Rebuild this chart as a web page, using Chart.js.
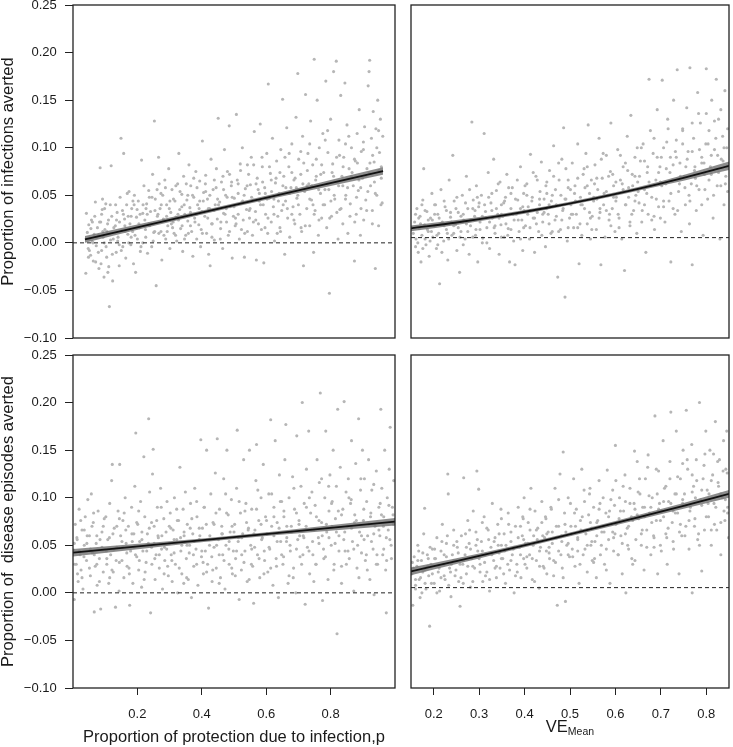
<!DOCTYPE html>
<html>
<head>
<meta charset="utf-8">
<script src="https://cdn.jsdelivr.net/npm/chart.js@4.4.1/dist/chart.umd.min.js"></script>
<style>
  body { margin: 0; background: #fff; }
  #wrap { position: relative; width: 733px; height: 747px; }
  canvas { position: absolute; }
</style>
</head>
<body>
<div id="wrap">
  <canvas id="c1" width="400" height="345" style="left:0;top:0"></canvas>
  <canvas id="c2" width="333" height="345" style="left:400px;top:0"></canvas>
  <canvas id="c3" width="400" height="397" style="left:0;top:350px"></canvas>
  <canvas id="c4" width="333" height="397" style="left:400px;top:350px"></canvas>
</div>
<script>
// --- ejes ---
const yTicks = [-0.10, -0.05, 0, 0.05, 0.10, 0.15, 0.20, 0.25];
const pTicks = [0.2, 0.4, 0.6, 0.8];
const veTicks = [0.2, 0.3, 0.4, 0.5, 0.6, 0.7, 0.8];

// --- puntos (x, y): nube externa ---
const infByP = [
[0.003,-0.032],[0.005,0.031],[0.008,0.011],[0.011,-0.006],[0.013,0.019],[0.016,0.004],[0.019,-0.013],[0.022,0.024],[0.025,0.001],[0.028,-0.019],[0.031,0.009],[0.035,0.043],[0.038,-0.003],[0.042,0.016],[0.047,-0.027],
[0.051,0.079],[0.053,0.022],[0.056,-0.008],[0.058,0.035],[0.059,0.046],[0.061,0.006],[0.064,-0.036],[0.067,0.014],[0.070,0.041],[0.073,-0.015],[0.076,0.020],[0.077,-0.031],[0.080,-0.025],[0.082,-0.067],[0.086,0.003],[0.088,0.081],[0.090,0.028],[0.093,-0.040],
[0.102,0.018],[0.105,-0.010],[0.108,0.032],[0.111,0.006],[0.115,-0.024],[0.118,0.048],[0.121,0.110],[0.124,0.013],[0.127,-0.004],[0.130,0.094],[0.133,0.025],[0.137,-0.016],[0.140,0.040],[0.144,0.009],[0.148,0.054],
[0.151,0.020],[0.154,-0.002],[0.157,0.036],[0.160,0.012],[0.163,-0.022],[0.166,0.050],[0.170,-0.031],[0.173,0.027],[0.176,0.004],[0.179,0.044],[0.183,0.016],[0.186,-0.009],[0.190,0.087],[0.194,0.031],[0.198,0.060],
[0.201,0.024],[0.204,0.006],[0.207,0.041],[0.210,-0.011],[0.214,0.055],[0.217,0.018],[0.220,0.033],[0.224,-0.004],[0.227,0.072],[0.231,0.011],[0.233,0.128],[0.236,0.046],[0.239,-0.045],[0.243,0.028],[0.247,0.090],[0.249,0.062],
[0.252,0.036],[0.255,0.012],[0.258,-0.018],[0.261,0.050],[0.264,0.024],[0.268,0.066],[0.271,0.004],[0.274,0.040],[0.278,0.018],[0.281,0.078],[0.285,-0.006],[0.288,0.032],[0.292,0.056],[0.296,0.022],[0.299,0.010],
[0.302,0.044],[0.305,0.027],[0.308,0.002],[0.311,0.062],[0.315,0.094],[0.318,0.035],[0.321,0.015],[0.325,0.051],[0.328,-0.009],[0.331,0.070],[0.335,0.030],[0.338,0.008],[0.342,0.045],[0.345,0.023],[0.349,0.082],
[0.352,0.037],[0.355,0.060],[0.358,0.012],[0.362,-0.014],[0.365,0.048],[0.368,0.026],[0.372,0.075],[0.375,0.004],[0.378,0.040],[0.382,0.019],[0.385,0.065],[0.388,-0.004],[0.392,0.033],[0.394,0.107],[0.398,0.053],
[0.402,0.028],[0.405,0.071],[0.408,0.010],[0.411,0.046],[0.415,-0.012],[0.418,0.036],[0.420,-0.024],[0.423,0.088],[0.427,0.020],[0.430,0.056],[0.434,0.003],[0.437,0.040],[0.441,0.078],[0.444,0.025],[0.447,0.131],
[0.452,0.043],[0.455,0.015],[0.458,0.064],[0.462,-0.006],[0.465,0.031],[0.468,0.098],[0.472,0.050],[0.475,0.022],[0.478,0.075],[0.481,0.008],[0.484,0.123],[0.487,0.038],[0.491,0.060],[0.494,-0.016],[0.498,0.028],
[0.501,0.047],[0.504,0.018],[0.508,0.135],[0.511,0.066],[0.514,0.030],[0.518,0.004],[0.521,0.083],[0.525,0.042],[0.528,0.100],[0.531,0.024],[0.535,-0.015],[0.538,0.057],[0.542,0.035],[0.545,0.012],[0.549,0.072],
[0.552,0.026],[0.555,0.061],[0.558,0.090],[0.562,0.008],[0.565,0.045],[0.568,0.117],[0.572,0.033],[0.575,-0.018],[0.578,0.068],[0.582,0.020],[0.585,0.052],[0.588,0.125],[0.592,0.014],[0.595,0.080],[0.598,0.040],
[0.600,-0.021],[0.603,0.058],[0.606,0.030],[0.610,0.094],[0.613,0.010],[0.615,0.167],[0.618,0.047],[0.622,0.073],[0.625,0.022],[0.629,0.110],[0.632,0.038],[0.636,0.002],[0.639,0.063],[0.643,0.086],[0.647,0.028],
[0.651,0.052],[0.654,0.016],[0.657,0.098],[0.660,0.034],[0.663,0.151],[0.667,0.070],[0.670,-0.012],[0.673,0.044],[0.677,0.121],[0.680,0.026],[0.684,0.080],[0.687,0.006],[0.691,0.058],[0.694,0.104],[0.698,0.038],
[0.701,0.066],[0.704,0.020],[0.708,0.132],[0.711,0.047],[0.714,0.178],[0.717,0.088],[0.721,0.030],[0.724,0.072],[0.727,0.012],[0.730,0.112],[0.733,-0.024],[0.737,0.054],[0.740,0.156],[0.744,0.036],[0.748,0.094],
[0.751,0.062],[0.754,0.018],[0.757,0.128],[0.760,0.045],[0.764,0.082],[0.767,-0.010],[0.769,0.193],[0.772,0.034],[0.776,0.070],[0.779,0.150],[0.783,0.008],[0.786,0.100],[0.790,0.052],[0.794,0.026],[0.798,0.115],
[0.801,0.074],[0.804,0.040],[0.808,0.170],[0.811,0.016],[0.815,0.095],[0.818,0.056],[0.820,-0.053],[0.824,0.130],[0.827,0.028],[0.831,0.083],[0.834,0.180],[0.838,0.046],[0.843,0.191],[0.846,0.064],[0.849,0.004],
[0.852,0.108],[0.855,0.035],[0.858,0.155],[0.862,0.070],[0.865,0.020],[0.868,0.090],[0.872,0.168],[0.875,0.050],[0.879,0.124],[0.882,0.010],[0.886,0.078],[0.890,0.041],[0.894,0.100],[0.900,0.060],[0.904,-0.019],
[0.907,0.086],[0.910,0.030],[0.913,0.115],[0.917,0.055],[0.920,0.140],[0.924,0.008],[0.927,0.096],[0.931,0.068],[0.935,0.024],[0.938,0.122],[0.942,0.045],[0.946,0.078],[0.950,0.165],[0.953,0.180],[0.955,0.192],
[0.958,0.060],[0.961,0.110],[0.964,0.034],[0.967,0.138],[0.970,0.085],[0.974,-0.027],[0.976,0.120],[0.979,0.050],[0.982,0.150],[0.985,0.018],[0.988,0.095],[0.991,0.130],[0.994,0.068],[0.997,0.042],[0.999,0.112]
];
// nucleo denso cerca de la recta
const infByPCore = [
[0.012,-0.015],[0.020,0.015],[0.027,0.000],[0.033,0.028],[0.040,0.006],[0.045,-0.010],[0.049,0.022],[0.054,-0.022],[0.060,0.012],[0.066,0.036],[0.071,-0.004],[0.079,0.024],[0.084,0.010],[0.092,-0.012],[0.097,0.016],
[0.103,0.040],[0.110,0.002],[0.116,0.022],[0.122,-0.008],[0.129,0.030],[0.135,0.012],[0.142,0.052],[0.147,0.000],[0.155,0.028],[0.161,0.044],[0.168,0.008],[0.175,0.035],[0.181,0.020],[0.188,-0.004],[0.195,0.040],
[0.203,0.014],[0.209,0.030],[0.216,0.048],[0.222,0.020],[0.229,0.002],[0.235,0.034],[0.242,0.056],[0.248,0.010],[0.256,0.040],[0.263,0.025],[0.270,0.058],[0.276,0.012],[0.283,0.036],[0.290,0.020],[0.297,0.046],
[0.304,0.008],[0.312,0.030],[0.319,0.054],[0.326,0.018],[0.333,0.040],[0.340,0.062],[0.347,0.010],[0.354,0.032],[0.361,0.050],[0.369,0.022],[0.376,0.058],[0.383,0.036],[0.390,0.014],[0.397,0.044],
[0.404,0.062],[0.412,0.026],[0.419,0.050],[0.426,0.006],[0.433,0.034],[0.440,0.058],[0.448,0.040],[0.456,0.022],[0.463,0.070],[0.470,0.030],[0.477,0.048],[0.485,0.012],[0.492,0.064],[0.500,0.038],
[0.507,0.020],[0.514,0.052],[0.522,0.076],[0.529,0.044],[0.536,0.010],[0.544,0.060],[0.551,0.034],[0.559,0.048],[0.566,0.082],[0.573,0.024],[0.581,0.056],[0.589,0.040],[0.596,0.064],
[0.604,0.016],[0.611,0.046],[0.619,0.080],[0.626,0.054],[0.634,0.030],[0.641,0.068],[0.649,0.044],[0.656,0.012],[0.664,0.060],[0.671,0.090],[0.679,0.036],[0.686,0.052],[0.694,0.074],
[0.701,0.024],[0.709,0.058],[0.716,0.040],[0.724,0.096],[0.731,0.062],[0.739,0.018],[0.746,0.076],[0.754,0.046],[0.761,0.060],[0.769,0.030],[0.776,0.088],[0.784,0.056],[0.791,0.072],[0.799,0.040],
[0.806,0.108],[0.814,0.062],[0.821,0.026],[0.829,0.074],[0.836,0.050],[0.844,0.090],[0.851,0.060],[0.859,0.036],[0.866,0.080],[0.874,0.104],[0.881,0.058],[0.889,0.028],[0.896,0.074],
[0.904,0.088],[0.911,0.048],[0.919,0.066],[0.926,0.036],[0.934,0.098],[0.941,0.070],[0.949,0.054],[0.956,0.084],[0.964,0.020],[0.971,0.064],[0.979,0.100],[0.986,0.076],[0.993,0.040]
];
const infByPCore2 = [
[0.015,-0.008],[0.025,0.022],[0.036,-0.020],[0.046,0.008],[0.056,0.030],[0.065,0.000],[0.074,0.012],[0.085,0.040],[0.095,0.004],[0.106,0.024],
[0.115,-0.002],[0.126,0.034],[0.134,0.018],[0.145,0.028],[0.155,0.006],[0.165,0.040],[0.174,0.016],[0.185,0.030],[0.194,0.000],[0.205,0.036],
[0.214,0.020],[0.225,0.048],[0.234,0.012],[0.245,0.030],[0.255,0.052],[0.265,0.008],[0.274,0.028],[0.285,0.044],[0.294,0.016],[0.305,0.060],
[0.314,0.024],[0.325,0.038],[0.334,0.004],[0.345,0.050],[0.354,0.018],[0.365,0.068],[0.374,0.030],[0.385,0.044],[0.394,0.010],[0.405,0.054],
[0.414,0.036],[0.425,0.020],[0.434,0.066],[0.445,0.046],[0.454,0.004],[0.465,0.056],[0.474,0.036],[0.485,0.072],[0.494,0.048],[0.505,0.026],
[0.514,0.062],[0.525,0.014],[0.534,0.050],[0.545,0.082],[0.554,0.036],[0.565,0.022],[0.574,0.062],[0.585,0.044],[0.594,0.090],[0.605,0.052],
[0.614,0.026],[0.625,0.066],[0.634,0.046],[0.645,0.010],[0.654,0.074],[0.665,0.040],[0.674,0.058],[0.685,0.094],[0.694,0.030],[0.705,0.068],
[0.714,0.050],[0.725,0.016],[0.734,0.084],[0.745,0.060],[0.754,0.104],[0.765,0.040],[0.774,0.066],[0.785,0.024],[0.794,0.082],[0.805,0.056],
[0.814,0.118],[0.825,0.044],[0.834,0.070],[0.845,0.032],[0.854,0.092],[0.865,0.060],[0.874,0.046],[0.885,0.112],[0.894,0.070],[0.905,0.022],
[0.914,0.084],[0.925,0.058],[0.934,0.106],[0.945,0.034],[0.954,0.074],[0.965,0.092],[0.974,0.052],[0.985,0.118],[0.994,0.080]
];

const infByVE = [
[0.158,0.022],[0.161,0.004],[0.163,0.036],[0.166,-0.010],[0.168,0.015],[0.170,0.028],[0.172,-0.020],[0.174,0.008],[0.176,0.045],[0.178,0.078],[0.180,0.019],[0.183,-0.002],[0.185,0.033],[0.188,0.012],[0.190,-0.014],[0.193,0.026],[0.196,0.052],[0.198,0.006],
[0.201,0.018],[0.204,0.040],[0.206,-0.006],[0.209,0.030],[0.211,0.010],[0.213,-0.043],[0.216,0.056],[0.219,0.022],[0.222,0.002],[0.225,0.038],[0.228,0.014],[0.231,-0.018],[0.234,0.066],[0.237,0.027],[0.240,0.008],[0.242,0.092],[0.245,0.044],[0.248,0.019],
[0.251,-0.008],[0.254,0.032],[0.257,-0.031],[0.260,0.012],[0.263,0.050],[0.266,0.024],[0.269,0.004],[0.272,0.070],[0.275,0.036],[0.278,-0.012],[0.281,0.018],[0.284,0.127],[0.287,0.045],[0.290,0.028],[0.292,0.008],[0.294,0.060],[0.297,-0.020],[0.299,0.038],
[0.302,0.022],[0.305,0.050],[0.308,0.005],[0.311,0.115],[0.314,0.033],[0.317,0.016],[0.320,0.074],[0.323,-0.006],[0.326,0.042],[0.329,0.026],[0.332,0.088],[0.335,0.010],[0.338,0.055],[0.341,0.030],[0.344,-0.012],[0.346,0.064],[0.348,0.019],[0.349,0.040],
[0.352,0.028],[0.355,0.006],[0.358,0.048],[0.361,0.072],[0.364,0.015],[0.367,-0.020],[0.370,0.036],[0.373,0.058],[0.376,0.002],[0.379,-0.023],[0.382,0.030],[0.385,0.045],[0.388,0.012],[0.391,0.080],[0.394,0.024],[0.396,-0.008],[0.398,0.052],[0.399,0.034],
[0.402,0.018],[0.405,0.062],[0.408,0.038],[0.411,0.004],[0.413,0.093],[0.416,0.044],[0.419,0.026],[0.422,-0.010],[0.425,0.070],[0.428,0.032],[0.431,0.012],[0.434,0.054],[0.437,0.085],[0.440,0.022],[0.443,0.046],[0.446,-0.004],[0.448,0.036],[0.449,0.064],
[0.452,0.030],[0.455,0.076],[0.458,0.010],[0.461,0.050],[0.464,0.102],[0.467,0.024],[0.470,0.040],[0.473,-0.036],[0.476,0.066],[0.479,0.014],[0.482,0.088],[0.484,0.034],[0.486,0.121],[0.489,-0.057],[0.491,0.046],[0.494,0.002],[0.496,0.058],[0.499,0.026],
[0.502,0.040],[0.505,0.084],[0.508,0.016],[0.511,0.060],[0.514,0.030],[0.517,0.104],[0.520,-0.022],[0.523,0.048],[0.526,0.008],[0.529,0.072],[0.532,0.036],[0.535,0.094],[0.538,0.020],[0.540,0.124],[0.543,0.052],[0.545,0.004],[0.547,0.066],[0.549,0.028],
[0.552,0.044],[0.555,0.082],[0.558,0.014],[0.561,0.056],[0.564,0.110],[0.566,0.032],[0.568,-0.023],[0.571,0.068],[0.574,0.040],[0.577,0.006],[0.580,0.092],[0.583,0.050],[0.586,0.024],[0.589,0.075],[0.590,0.126],[0.593,0.036],[0.596,0.060],[0.599,0.012],
[0.602,0.048],[0.605,0.098],[0.608,0.026],[0.611,0.066],[0.614,0.004],[0.617,0.080],[0.620,-0.029],[0.623,0.040],[0.626,0.112],[0.629,0.058],[0.632,0.018],[0.634,0.134],[0.637,0.072],[0.640,0.034],[0.643,0.090],[0.645,0.050],[0.647,0.010],[0.649,0.064],
[0.652,0.042],[0.655,0.086],[0.658,0.022],[0.661,0.104],[0.664,0.056],[0.667,-0.010],[0.670,0.074],[0.672,0.030],[0.674,0.172],[0.677,0.118],[0.680,0.048],[0.683,0.094],[0.686,0.014],[0.689,0.066],[0.692,0.140],[0.695,0.038],[0.698,0.080],[0.699,0.026],
[0.702,0.060],[0.703,0.171],[0.706,0.100],[0.709,0.022],[0.712,0.078],[0.715,0.130],[0.718,0.044],[0.721,0.090],[0.722,-0.020],[0.725,0.066],[0.728,0.150],[0.731,0.030],[0.734,0.108],[0.736,0.182],[0.739,0.054],[0.742,0.084],[0.745,0.012],[0.748,0.120],
[0.751,0.070],[0.754,0.040],[0.757,0.142],[0.760,0.096],[0.763,0.020],[0.764,0.184],[0.767,0.062],[0.769,-0.023],[0.772,0.110],[0.775,0.080],[0.778,0.034],[0.781,0.158],[0.784,0.056],[0.787,0.126],[0.790,0.090],[0.793,0.008],[0.796,0.072],[0.799,0.104],
[0.800,0.183],[0.803,0.046],[0.806,0.118],[0.809,0.080],[0.812,0.150],[0.815,0.026],[0.818,0.098],[0.822,0.172],[0.824,0.060],[0.827,0.130],[0.830,0.004],[0.833,0.088],[0.836,0.112],[0.839,0.040],[0.841,0.160],[0.843,0.070],[0.845,0.100],[0.847,0.054]
];
const infByVECore = [
[0.155,0.010],[0.160,0.030],[0.165,0.000],[0.171,0.020],[0.176,-0.006],[0.181,0.034],[0.186,0.014],[0.192,0.002],[0.197,0.024],[0.202,0.040],[0.207,0.008],[0.212,0.026],[0.218,-0.010],[0.223,0.018],
[0.228,0.034],[0.233,0.004],[0.239,0.022],[0.244,0.010],[0.249,0.036],[0.254,0.016],[0.260,0.028],[0.265,-0.002],[0.270,0.042],[0.275,0.012],[0.281,0.024],[0.286,0.006],[0.291,0.034],[0.296,0.048],
[0.302,0.014],[0.307,0.028],[0.312,0.040],[0.317,0.000],[0.323,0.022],[0.328,0.052],[0.333,0.016],[0.338,0.036],[0.344,0.026],[0.349,0.006],[0.354,0.042],[0.359,0.020],[0.365,0.058],[0.370,0.014],
[0.375,0.030],[0.380,0.046],[0.386,0.024],[0.391,0.004],[0.396,0.038],[0.401,0.060],[0.407,0.030],[0.412,0.016],[0.417,0.048],[0.422,0.026],[0.428,0.066],[0.433,0.040],[0.438,0.008],[0.443,0.032],
[0.449,0.052],[0.454,0.020],[0.459,0.044],[0.464,0.070],[0.470,0.028],[0.475,0.012],[0.480,0.050],[0.485,0.036],[0.491,0.078],[0.496,0.016],[0.501,0.056],[0.506,0.030],[0.512,0.044],[0.517,0.068],
[0.522,0.020],[0.527,0.040],[0.533,0.058],[0.538,0.080],[0.543,0.032],[0.548,0.014],[0.554,0.062],[0.559,0.046],[0.564,0.026],[0.569,0.088],[0.575,0.052],[0.580,0.034],[0.585,0.070],[0.590,0.018],
[0.596,0.048],[0.601,0.064],[0.606,0.030],[0.611,0.092],[0.617,0.056],[0.622,0.040],[0.627,0.076],[0.632,0.022],[0.638,0.060],[0.643,0.044],[0.648,0.100],[0.653,0.070],[0.659,0.034],[0.664,0.086],
[0.669,0.052],[0.674,0.064],[0.680,0.024],[0.685,0.110],[0.690,0.046],[0.695,0.074],[0.701,0.090],[0.706,0.038],[0.711,0.062],[0.716,0.120],[0.722,0.052],[0.727,0.082],[0.732,0.096],[0.737,0.034],
[0.743,0.070],[0.748,0.104],[0.753,0.058],[0.758,0.088],[0.764,0.044],[0.769,0.126],[0.774,0.076],[0.779,0.060],[0.785,0.098],[0.790,0.040],[0.795,0.084],[0.800,0.136],[0.806,0.066],[0.811,0.092],
[0.816,0.050],[0.821,0.110],[0.827,0.074],[0.832,0.140],[0.837,0.086],[0.842,0.062],[0.847,0.120]
];
const infByVECore2 = [
[0.153,0.016],[0.160,-0.004],[0.167,0.026],[0.174,0.040],[0.181,0.004],[0.188,0.024],[0.195,0.012],[0.202,0.030],[0.209,-0.002],[0.216,0.020],
[0.223,0.044],[0.230,0.010],[0.237,0.032],[0.244,0.018],[0.251,0.048],[0.258,0.006],[0.265,0.030],[0.272,0.020],[0.279,0.056],[0.286,0.036],
[0.293,0.014],[0.300,0.042],[0.307,0.000],[0.314,0.026],[0.321,0.048],[0.328,0.034],[0.335,0.018],[0.342,0.062],[0.349,0.030],[0.356,0.044],
[0.363,0.008],[0.370,0.052],[0.377,0.024],[0.384,0.066],[0.391,0.036],[0.398,0.016],[0.405,0.050],[0.412,0.034],[0.419,0.074],[0.426,0.020],
[0.433,0.046],[0.440,0.030],[0.447,0.060],[0.454,0.040],[0.461,0.012],[0.468,0.056],[0.475,0.084],[0.482,0.024],[0.489,0.046],[0.496,0.066],
[0.503,0.030],[0.510,0.052],[0.517,0.016],[0.524,0.040],[0.531,0.078],[0.538,0.060],[0.545,0.026],[0.552,0.048],[0.559,0.068],[0.566,0.036],
[0.573,0.094],[0.580,0.054],[0.587,0.030],[0.594,0.072],[0.601,0.044],[0.608,0.016],[0.615,0.062],[0.622,0.084],[0.629,0.048],[0.636,0.030],
[0.643,0.070],[0.650,0.054],[0.657,0.100],[0.664,0.040],[0.671,0.080],[0.678,0.060],[0.685,0.028],[0.692,0.090],[0.699,0.064],[0.706,0.044],
[0.713,0.106],[0.720,0.074],[0.727,0.036],[0.734,0.090],[0.741,0.062],[0.748,0.118],[0.755,0.080],[0.762,0.050],[0.769,0.096],[0.776,0.068],
[0.783,0.136],[0.790,0.084],[0.797,0.056],[0.804,0.104],[0.811,0.072],[0.818,0.128],[0.825,0.092],[0.832,0.060],[0.839,0.100],[0.846,0.080]
];

const disByP = [
[0.002,0.045],[0.004,-0.007],[0.007,0.072],[0.010,0.030],[0.013,0.056],[0.016,0.012],[0.019,0.088],[0.022,0.040],[0.025,0.024],[0.028,0.066],[0.031,0.004],[0.035,0.050],[0.038,0.080],[0.042,0.034],[0.046,0.098],
[0.051,0.060],[0.054,0.018],[0.057,0.104],[0.060,0.042],[0.063,0.074],[0.066,-0.020],[0.069,0.028],[0.072,0.052],[0.075,0.008],[0.078,0.086],[0.082,0.036],[0.086,-0.017],[0.090,0.064],[0.094,0.022],[0.098,0.046],
[0.102,0.080],[0.105,0.030],[0.108,0.056],[0.111,0.010],[0.114,0.094],[0.117,0.040],[0.120,0.118],[0.122,0.135],[0.125,0.022],[0.128,0.068],[0.132,-0.015],[0.136,0.048],[0.140,0.086],[0.143,0.002],[0.145,0.135],[0.148,0.060],
[0.152,0.034],[0.155,0.076],[0.158,0.016],[0.162,0.100],[0.165,0.052],[0.168,0.028],[0.172,0.070],[0.176,-0.013],[0.179,0.044],[0.182,0.090],[0.186,0.010],[0.189,0.062],[0.192,0.112],[0.195,0.168],[0.198,0.038],
[0.201,0.072],[0.204,0.024],[0.207,0.054],[0.210,0.096],[0.213,0.006],[0.217,0.044],[0.220,0.143],[0.223,0.080],[0.227,0.032],[0.231,0.062],[0.235,0.183],[0.238,0.106],[0.241,-0.021],[0.244,0.048],[0.247,0.125],[0.249,0.151],
[0.252,0.070],[0.255,0.014],[0.258,0.040],[0.262,0.090],[0.265,0.058],[0.268,0.026],[0.272,0.110],[0.275,0.046],[0.278,0.004],[0.282,0.078],[0.285,0.034],[0.289,0.064],[0.292,0.096],[0.296,0.018],[0.299,0.052],
[0.302,0.084],[0.305,0.040],[0.308,0.012],[0.311,0.066],[0.315,0.100],[0.318,0.030],[0.322,0.056],[0.325,0.000],[0.328,0.076],[0.332,0.132],[0.335,0.044],[0.338,0.020],[0.342,0.088],[0.345,0.060],[0.349,0.106],
[0.352,0.036],[0.355,0.072],[0.358,0.014],[0.362,0.050],[0.365,0.094],[0.368,-0.005],[0.372,0.062],[0.375,0.028],[0.378,0.110],[0.382,0.046],[0.385,0.080],[0.388,0.008],[0.392,0.056],[0.397,0.161],[0.399,0.038],
[0.402,0.068],[0.405,0.020],[0.408,0.090],[0.411,0.044],[0.415,0.150],[0.418,0.030],[0.421,-0.016],[0.425,0.060],[0.428,0.104],[0.432,0.012],[0.435,0.074],[0.438,0.048],[0.442,0.126],[0.445,0.026],[0.448,0.162],
[0.452,0.056],[0.455,0.088],[0.458,0.016],[0.462,0.070],[0.465,0.040],[0.468,0.120],[0.472,0.004],[0.475,0.050],[0.478,0.150],[0.482,0.082],[0.485,0.030],[0.488,0.064],[0.492,0.098],[0.495,0.020],[0.498,0.044],
[0.502,0.072],[0.505,0.036],[0.508,0.110],[0.510,0.171],[0.513,0.054],[0.516,-0.007],[0.520,0.084],[0.523,0.024],[0.527,0.062],[0.530,0.140],[0.534,0.044],[0.537,0.094],[0.541,0.012],[0.545,0.068],[0.548,0.150],
[0.552,0.050],[0.555,0.088],[0.558,0.028],[0.561,-0.011],[0.565,0.066],[0.568,0.118],[0.570,0.156],[0.573,0.040],[0.577,0.076],[0.580,0.016],[0.584,0.100],[0.588,0.058],[0.591,0.135],[0.595,0.034],[0.598,0.080],
[0.602,0.062],[0.605,0.022],[0.608,0.104],[0.611,0.046],[0.614,0.182],[0.617,0.070],[0.621,0.008],[0.624,0.090],[0.628,0.160],[0.631,0.036],[0.634,0.074],[0.638,-0.005],[0.641,0.124],[0.645,0.054],[0.648,0.096],
[0.652,0.030],[0.655,0.080],[0.658,0.140],[0.661,0.177],[0.664,0.058],[0.668,0.010],[0.671,0.100],[0.675,0.044],[0.678,0.070],[0.682,0.122],[0.685,0.026],[0.688,0.088],[0.692,0.000],[0.695,0.165],[0.698,0.056],
[0.702,0.076],[0.705,0.038],[0.708,0.112],[0.712,0.200],[0.715,0.060],[0.718,0.094],[0.721,-0.012],[0.725,0.130],[0.728,0.048],[0.732,0.170],[0.735,0.020],[0.738,0.084],[0.742,0.106],[0.745,0.040],[0.748,0.066],
[0.752,0.092],[0.755,0.030],[0.758,0.140],[0.762,0.058],[0.765,0.116],[0.768,0.210],[0.772,0.074],[0.775,-0.008],[0.778,0.046],[0.782,0.100],[0.785,0.170],[0.788,0.064],[0.792,0.014],[0.795,0.086],[0.798,0.124],
[0.802,0.050],[0.805,0.096],[0.808,0.150],[0.811,0.030],[0.815,0.078],[0.818,0.112],[0.820,-0.043],[0.822,0.193],[0.826,0.060],[0.830,0.132],[0.834,0.010],[0.838,0.088],[0.842,0.201],[0.845,0.044],[0.848,0.106],
[0.852,0.070],[0.855,0.120],[0.858,0.036],[0.862,0.094],[0.865,0.160],[0.868,0.054],[0.872,0.002],[0.875,0.082],[0.878,0.136],[0.882,0.026],[0.887,0.183],[0.890,0.064],[0.893,0.108],[0.896,0.042],[0.899,0.150],
[0.902,0.076],[0.905,0.120],[0.908,0.034],[0.912,0.096],[0.915,0.060],[0.918,0.140],[0.922,0.014],[0.925,0.084],[0.928,0.108],[0.932,0.046],[0.935,-0.002],[0.938,0.070],[0.942,0.128],[0.946,0.030],[0.950,0.090],
[0.953,0.060],[0.956,0.193],[0.959,0.110],[0.962,0.040],[0.965,0.080],[0.968,0.150],[0.971,0.024],[0.973,-0.021],[0.976,0.100],[0.979,0.066],[0.982,0.130],[0.985,0.174],[0.988,0.050],[0.992,0.090],[0.996,0.118]
];
const disByPCore = [
[0.005,0.030],[0.012,0.058],[0.020,0.044],[0.028,0.016],[0.035,0.066],[0.043,0.052],[0.051,0.026],[0.059,0.070],[0.066,0.040],[0.074,0.060],[0.082,0.012],[0.090,0.048],[0.097,0.078],
[0.105,0.036],[0.113,0.058],[0.121,0.024],[0.128,0.046],[0.136,0.070],[0.144,0.032],[0.152,0.054],[0.159,0.084],[0.167,0.042],[0.175,0.020],[0.183,0.062],[0.190,0.048],[0.198,0.074],
[0.206,0.034],[0.214,0.056],[0.221,0.014],[0.229,0.044],[0.237,0.068],[0.245,0.030],[0.252,0.052],[0.260,0.076],[0.268,0.040],[0.276,0.060],[0.283,0.020],[0.291,0.046],[0.299,0.070],
[0.307,0.034],[0.314,0.056],[0.322,0.088],[0.330,0.026],[0.338,0.050],[0.345,0.064],[0.353,0.016],[0.361,0.042],[0.369,0.078],[0.376,0.054],[0.384,0.030],[0.392,0.068],[0.400,0.044],
[0.407,0.090],[0.415,0.022],[0.423,0.056],[0.431,0.038],[0.438,0.072],[0.446,0.050],[0.454,0.010],[0.462,0.062],[0.469,0.034],[0.477,0.084],[0.485,0.054],[0.493,0.026],[0.500,0.064],
[0.508,0.044],[0.516,0.096],[0.524,0.058],[0.531,0.032],[0.539,0.074],[0.547,0.014],[0.555,0.046],[0.562,0.062],[0.570,0.088],[0.578,0.036],[0.586,0.056],[0.593,0.020],[0.601,0.076],
[0.609,0.048],[0.617,0.104],[0.624,0.060],[0.632,0.028],[0.640,0.068],[0.648,0.040],[0.655,0.086],[0.663,0.054],[0.671,0.018],[0.679,0.064],[0.686,0.110],[0.694,0.046],[0.702,0.072],
[0.710,0.030],[0.717,0.058],[0.725,0.090],[0.733,0.044],[0.741,0.066],[0.748,0.012],[0.756,0.080],[0.764,0.052],[0.772,0.120],[0.779,0.036],[0.787,0.072],[0.795,0.058],[0.803,0.094],
[0.810,0.024],[0.818,0.064],[0.826,0.044],[0.834,0.082],[0.841,0.056],[0.849,0.030],[0.857,0.100],[0.865,0.068],[0.872,0.046],[0.880,0.076],[0.888,0.016],[0.896,0.060],[0.903,0.088],
[0.911,0.040],[0.919,0.072],[0.927,0.054],[0.934,0.114],[0.942,0.030],[0.950,0.066],[0.958,0.082],[0.965,0.046],[0.973,0.058],[0.981,0.092],[0.989,0.036],[0.995,0.072]
];
const disByPCore2 = [
[0.004,0.052],[0.014,0.020],[0.024,0.076],[0.034,0.038],[0.044,0.060],[0.054,0.046],[0.064,0.084],[0.074,0.030],[0.084,0.056],[0.094,0.070],
[0.104,0.044],[0.114,0.016],[0.124,0.062],[0.134,0.034],[0.144,0.078],[0.154,0.048],[0.164,0.066],[0.174,0.026],[0.184,0.054],[0.194,0.040],
[0.204,0.086],[0.214,0.064],[0.224,0.022],[0.234,0.052],[0.244,0.074],[0.254,0.036],[0.264,0.060],[0.274,0.090],[0.284,0.048],[0.294,0.028],
[0.304,0.068],[0.314,0.042],[0.324,0.076],[0.334,0.058],[0.344,0.010],[0.354,0.050],[0.364,0.068],[0.374,0.040],[0.384,0.096],[0.394,0.060],
[0.404,0.032],[0.414,0.072],[0.424,0.050],[0.434,0.024],[0.444,0.084],[0.454,0.040],[0.464,0.062],[0.474,0.104],[0.484,0.046],[0.494,0.070],
[0.504,0.018],[0.514,0.058],[0.524,0.040],[0.534,0.086],[0.544,0.066],[0.554,0.030],[0.564,0.048],[0.574,0.108],[0.584,0.072],[0.594,0.044],
[0.604,0.062],[0.614,0.026],[0.624,0.080],[0.634,0.054],[0.644,0.096],[0.654,0.038],[0.664,0.070],[0.674,0.050],[0.684,0.016],[0.694,0.084],
[0.704,0.060],[0.714,0.040],[0.724,0.070],[0.734,0.100],[0.744,0.054],[0.754,0.030],[0.764,0.076],[0.774,0.060],[0.784,0.038],[0.794,0.112],
[0.804,0.070],[0.814,0.052],[0.824,0.086],[0.834,0.028],[0.844,0.064],[0.854,0.044],[0.864,0.098],[0.874,0.074],[0.884,0.050],[0.894,0.120],
[0.904,0.056],[0.914,0.024],[0.924,0.080],[0.934,0.062],[0.944,0.040],[0.954,0.094],[0.964,0.070],[0.974,0.034],[0.984,0.056],[0.994,0.082]
];

const disByVE = [
[0.152,0.020],[0.154,-0.013],[0.157,0.038],[0.160,0.008],[0.163,0.028],[0.165,0.050],[0.168,0.014],[0.170,-0.005],[0.173,0.034],[0.176,0.022],[0.178,0.062],[0.180,0.089],[0.183,0.004],[0.186,0.040],[0.189,0.018],[0.191,-0.035],[0.194,0.030],[0.197,0.046],
[0.201,0.010],[0.204,0.036],[0.207,0.058],[0.210,0.022],[0.213,0.002],[0.216,0.044],[0.219,0.072],[0.222,0.030],[0.225,0.014],[0.228,0.052],[0.231,0.125],[0.232,0.104],[0.235,0.026],[0.238,-0.004],[0.241,0.040],[0.244,0.066],[0.247,0.018],[0.249,0.034],
[0.252,0.048],[0.255,0.012],[0.258,-0.014],[0.261,0.060],[0.264,0.030],[0.266,0.121],[0.269,0.040],[0.272,0.020],[0.275,0.076],[0.278,0.052],[0.281,0.006],[0.284,0.036],[0.287,0.086],[0.290,0.026],[0.293,0.064],[0.295,0.128],[0.297,0.044],[0.299,0.109],
[0.302,0.030],[0.305,0.054],[0.308,0.012],[0.311,0.080],[0.314,0.040],[0.317,0.022],[0.320,0.066],[0.323,0.002],[0.326,0.048],[0.329,0.094],[0.332,0.034],[0.335,0.058],[0.338,0.016],[0.341,0.072],[0.344,0.042],[0.346,0.026],[0.348,0.088],[0.349,0.050],
[0.352,0.036],[0.355,0.062],[0.358,0.010],[0.361,0.046],[0.364,0.084],[0.367,0.024],[0.370,0.054],[0.373,0.040],[0.377,0.000],[0.380,0.070],[0.383,0.030],[0.386,0.090],[0.389,0.048],[0.392,0.016],[0.395,0.060],[0.397,0.078],[0.398,0.036],[0.399,0.100],
[0.402,0.052],[0.405,0.026],[0.408,0.074],[0.411,0.040],[0.414,0.110],[0.417,0.014],[0.420,0.060],[0.423,0.086],[0.426,0.034],[0.429,0.068],[0.432,0.005],[0.435,0.048],[0.438,0.096],[0.441,0.028],[0.444,0.058],[0.446,0.080],[0.448,0.044],[0.449,0.020],
[0.452,0.064],[0.455,0.036],[0.458,0.090],[0.461,0.052],[0.464,0.018],[0.467,0.110],[0.470,0.070],[0.472,-0.013],[0.475,0.044],[0.478,0.125],[0.481,0.060],[0.483,0.026],[0.485,0.148],[0.488,0.084],[0.490,-0.009],[0.493,0.050],[0.496,0.100],[0.499,0.038],
[0.502,0.070],[0.505,0.046],[0.508,0.120],[0.511,0.028],[0.514,0.088],[0.517,0.058],[0.520,0.010],[0.523,0.076],[0.526,0.130],[0.529,0.040],[0.532,0.096],[0.535,0.062],[0.538,0.022],[0.541,0.082],[0.544,0.110],[0.546,0.050],[0.548,0.068],[0.549,0.034],
[0.552,0.090],[0.555,0.054],[0.558,0.016],[0.561,0.076],[0.564,0.118],[0.567,0.040],[0.570,0.064],[0.573,0.100],[0.576,0.030],[0.579,0.084],[0.582,0.129],[0.585,0.056],[0.588,0.010],[0.591,0.072],[0.594,0.108],[0.596,0.044],[0.598,0.092],[0.599,0.062],
[0.600,0.155],[0.603,0.074],[0.606,0.040],[0.609,0.100],[0.612,0.060],[0.615,0.020],[0.618,0.086],[0.621,0.124],[0.623,0.000],[0.626,0.068],[0.629,0.046],[0.632,0.110],[0.635,0.080],[0.638,0.030],[0.641,0.094],[0.642,0.149],[0.645,0.056],[0.648,0.138],
[0.651,0.078],[0.654,0.104],[0.657,0.050],[0.660,0.090],[0.663,0.024],[0.666,0.120],[0.669,0.066],[0.672,0.145],[0.675,0.084],[0.678,0.040],[0.681,0.100],[0.684,0.060],[0.687,0.186],[0.690,0.076],[0.693,0.020],[0.695,0.128],[0.697,0.094],[0.699,0.050],
[0.702,0.086],[0.705,0.160],[0.708,0.110],[0.711,0.062],[0.714,0.030],[0.717,0.096],[0.720,0.138],[0.722,0.190],[0.725,0.074],[0.728,0.046],[0.731,0.104],[0.734,0.170],[0.737,0.084],[0.740,0.020],[0.743,0.120],[0.746,0.060],[0.748,0.094],[0.749,0.150],
[0.752,0.104],[0.755,0.070],[0.756,0.192],[0.759,0.130],[0.762,0.046],[0.765,0.090],[0.768,0.156],[0.769,0.000],[0.772,0.112],[0.775,0.078],[0.778,0.140],[0.781,0.056],[0.785,0.200],[0.788,0.098],[0.790,0.023],[0.793,0.120],[0.796,0.066],[0.799,0.170],
[0.802,0.108],[0.805,0.080],[0.808,0.150],[0.811,0.050],[0.814,0.124],[0.817,0.094],[0.820,0.180],[0.823,0.066],[0.826,0.116],[0.829,0.140],[0.832,0.040],[0.835,0.100],[0.838,0.160],[0.841,0.076],[0.843,0.130],[0.845,0.170],[0.847,0.090],[0.849,0.058]
];
const disByVECore = [
[0.155,0.026],[0.160,0.004],[0.165,0.034],[0.171,0.016],[0.176,0.042],[0.181,0.010],[0.186,0.028],[0.192,0.048],[0.197,0.020],[0.202,0.036],[0.207,0.000],[0.212,0.026],[0.218,0.054],[0.223,0.018],
[0.228,0.038],[0.233,0.008],[0.239,0.030],[0.244,0.050],[0.249,0.024],[0.254,0.042],[0.260,0.016],[0.265,0.034],[0.270,0.062],[0.275,0.028],[0.281,0.046],[0.286,0.012],[0.291,0.038],[0.296,0.056],
[0.302,0.022],[0.307,0.044],[0.312,0.032],[0.317,0.068],[0.323,0.014],[0.328,0.040],[0.333,0.054],[0.338,0.028],[0.344,0.062],[0.349,0.036],[0.354,0.020],[0.359,0.050],[0.365,0.072],[0.370,0.034],
[0.375,0.046],[0.380,0.018],[0.386,0.058],[0.391,0.040],[0.396,0.080],[0.401,0.030],[0.407,0.052],[0.412,0.066],[0.417,0.036],[0.422,0.012],[0.428,0.056],[0.433,0.044],[0.438,0.074],[0.443,0.026],
[0.449,0.062],[0.454,0.048],[0.459,0.088],[0.464,0.034],[0.470,0.058],[0.475,0.070],[0.480,0.040],[0.485,0.016],[0.491,0.064],[0.496,0.052],[0.501,0.094],[0.506,0.038],[0.512,0.070],[0.517,0.056],
[0.522,0.030],[0.527,0.080],[0.533,0.046],[0.538,0.066],[0.543,0.104],[0.548,0.054],[0.554,0.036],[0.559,0.074],[0.564,0.088],[0.569,0.050],[0.575,0.064],[0.580,0.024],[0.585,0.080],[0.590,0.098],
[0.596,0.058],[0.601,0.072],[0.606,0.040],[0.611,0.086],[0.617,0.112],[0.622,0.062],[0.627,0.050],[0.632,0.094],[0.638,0.076],[0.643,0.034],[0.648,0.082],[0.653,0.120],[0.659,0.066],[0.664,0.090],
[0.669,0.048],[0.674,0.102],[0.680,0.074],[0.685,0.058],[0.690,0.130],[0.695,0.088],[0.701,0.044],[0.706,0.080],[0.711,0.112],[0.716,0.068],[0.722,0.094],[0.727,0.054],[0.732,0.084],[0.737,0.122],
[0.743,0.072],[0.748,0.098],[0.753,0.060],[0.758,0.140],[0.764,0.086],[0.769,0.106],[0.774,0.070],[0.779,0.118],[0.785,0.050],[0.790,0.092],[0.795,0.134],[0.800,0.080],[0.806,0.104],[0.811,0.066],
[0.816,0.146],[0.821,0.090],[0.827,0.112],[0.832,0.074],[0.837,0.128],[0.842,0.098],[0.847,0.084]
];
const disByVECore2 = [
[0.153,0.032],[0.160,0.014],[0.167,0.044],[0.174,0.000],[0.181,0.024],[0.188,0.036],[0.195,0.010],[0.202,0.046],[0.209,0.028],[0.216,0.016],
[0.223,0.040],[0.230,0.060],[0.237,0.022],[0.244,0.034],[0.251,0.054],[0.258,0.030],[0.265,0.010],[0.272,0.048],[0.279,0.066],[0.286,0.028],
[0.293,0.050],[0.300,0.036],[0.307,0.074],[0.314,0.018],[0.321,0.056],[0.328,0.042],[0.335,0.026],[0.342,0.050],[0.349,0.078],[0.356,0.044],
[0.363,0.030],[0.370,0.064],[0.377,0.048],[0.384,0.022],[0.391,0.070],[0.398,0.056],[0.405,0.038],[0.412,0.088],[0.419,0.050],[0.426,0.066],
[0.433,0.028],[0.440,0.060],[0.447,0.078],[0.454,0.042],[0.461,0.064],[0.468,0.032],[0.475,0.098],[0.482,0.054],[0.489,0.072],[0.496,0.040],
[0.503,0.062],[0.510,0.084],[0.517,0.044],[0.524,0.066],[0.531,0.108],[0.538,0.050],[0.545,0.074],[0.552,0.032],[0.559,0.060],[0.566,0.094],
[0.573,0.070],[0.580,0.046],[0.587,0.086],[0.594,0.064],[0.601,0.118],[0.608,0.078],[0.615,0.052],[0.622,0.096],[0.629,0.070],[0.636,0.036],
[0.643,0.088],[0.650,0.106],[0.657,0.062],[0.664,0.080],[0.671,0.132],[0.678,0.090],[0.685,0.048],[0.692,0.104],[0.699,0.076],[0.706,0.096],
[0.713,0.058],[0.720,0.120],[0.727,0.086],[0.734,0.104],[0.741,0.064],[0.748,0.136],[0.755,0.092],[0.762,0.076],[0.769,0.124],[0.776,0.100],
[0.783,0.062],[0.790,0.108],[0.797,0.146],[0.804,0.094],[0.811,0.118],[0.818,0.072],[0.825,0.138],[0.832,0.104],[0.839,0.086],[0.846,0.126]
];

// --- rectas ajustadas y bandas de confianza ---
const fitPx = [0, 0.5, 1];
const infFitP = [0.0037, 0.0396, 0.0755];
const infHiP = [0.0072, 0.0416, 0.0795];
const infLoP = [0.0002, 0.0376, 0.0715];
const disFitP = [0.0422, 0.0585, 0.0748];
const disHiP = [0.0462, 0.0603, 0.0788];
const disLoP = [0.0382, 0.0567, 0.0708];

const fitVEx = [0.15, 0.25, 0.35, 0.45, 0.55, 0.65, 0.75, 0.85];
const infFitVE = [0.0153, 0.0214, 0.0286, 0.0369, 0.0463, 0.0568, 0.0684, 0.0810];
const infHiVE = [0.0183, 0.0239, 0.0306, 0.0387, 0.0481, 0.0588, 0.0714, 0.0855];
const infLoVE = [0.0123, 0.0189, 0.0266, 0.0351, 0.0445, 0.0548, 0.0654, 0.0765];
const disFitVE = [0.0226, 0.0333, 0.0444, 0.0557, 0.0674, 0.0793, 0.0915, 0.1040];
const disHiVE = [0.0266, 0.0363, 0.0466, 0.0577, 0.0694, 0.0818, 0.0945, 0.1080];
const disLoVE = [0.0186, 0.0303, 0.0422, 0.0537, 0.0654, 0.0768, 0.0885, 0.1000];

// lineas de referencia (discontinuas)
const refLeft = 0;
const refRight = 0.0055;

const FONT = 'Liberation Sans';
const INK = '#1a1a1a';

// marco completo alrededor del area del grafico
const boxPlugin = {
    id: 'box',
    afterDatasetsDraw(chart) {
        const a = chart.chartArea, ctx = chart.ctx;
        ctx.save();
        ctx.strokeStyle = '#222';
        ctx.lineWidth = 1.3;
        ctx.strokeRect(a.left, a.top, a.right - a.left, a.bottom - a.top);
        ctx.restore();
    }
};

// titulo VE con subindice "Mean"
const veTitle = {
    id: 'veTitle',
    afterDraw(chart) {
        const ctx = chart.ctx, a = chart.chartArea;
        const cx = (a.left + a.right) / 2;
        ctx.save();
        ctx.fillStyle = INK;
        ctx.textBaseline = 'alphabetic';
        ctx.font = `16.5px "${FONT}"`;
        const w1 = ctx.measureText('VE').width;
        ctx.font = `10.5px "${FONT}"`;
        const w2 = ctx.measureText('Mean').width;
        const x0 = cx - (w1 + w2) / 2;
        ctx.font = `16.5px "${FONT}"`;
        ctx.fillText('VE', x0, a.bottom + 43.5);
        ctx.font = `10.5px "${FONT}"`;
        ctx.fillText('Mean', x0 + w1, a.bottom + 46.5);
        ctx.restore();
    }
};

function fmtY(v) {
    return v < 0 ? '\u2212' + (-v).toFixed(2) : v.toFixed(2);
}

function crearPanel(id, c) {
    const toXY = (xs, ys) => xs.map((x, i) => ({ x: x, y: ys[i] }));
    const curva = { showLine: true, pointRadius: 0, cubicInterpolationMode: 'monotone' };

    const datasets = [
        Object.assign({ data: toXY(c.fx, c.hi), borderColor: 'transparent', borderWidth: 0,
            backgroundColor: 'rgba(120,120,120,0.85)', fill: '+1', order: 2 }, curva),
        Object.assign({ data: toXY(c.fx, c.lo), borderColor: 'transparent', borderWidth: 0,
            fill: false, order: 2 }, curva),
        Object.assign({ data: toXY(c.fx, c.fit), borderColor: '#111', borderWidth: 1.8,
            fill: false, order: 1 }, curva),
        { data: [{ x: c.xr[0], y: c.ref }, { x: c.xr[1], y: c.ref }], showLine: true, pointRadius: 0,
            borderColor: '#222', borderWidth: 1, borderDash: [4, 3], fill: false, order: 3 },
        { data: c.pts.map(p => ({ x: p[0], y: p[1] })), pointRadius: 1.55, pointBorderWidth: 0,
            pointBackgroundColor: '#b6b6b6', backgroundColor: '#b6b6b6', order: 4 }
    ];

    const showX = !!c.xTicks;
    const showY = !!c.yTitle;

    return new Chart(document.getElementById(id), {
        type: 'scatter',
        data: { datasets },
        plugins: c.plugins,
        options: {
            responsive: false,
            animation: false,
            events: [],
            layout: { padding: c.pad },
            plugins: { legend: { display: false }, tooltip: { enabled: false } },
            scales: {
                x: {
                    type: 'linear',
                    min: c.xr[0], max: c.xr[1],
                    display: showX,
                    afterBuildTicks: s => { if (showX) s.ticks = c.xTicks.map(v => ({ value: v })); },
                    afterFit: s => { if (showX) { s.height = 59; s.paddingLeft = 0; s.paddingRight = 0; } },
                    border: { display: false },
                    grid: { drawOnChartArea: false, drawTicks: true, tickLength: 7, color: '#222', tickColor: '#222', lineWidth: 1 },
                    ticks: { color: INK, font: { family: FONT, size: 13 }, padding: 11.5, maxRotation: 0, autoSkip: false,
                        callback: v => v.toFixed(1) },
                    title: { display: !!c.xTitle, text: c.xTitle || '', color: INK,
                        font: { family: FONT, size: 16.5, lineHeight: 1 }, padding: { top: 0, bottom: 1.2 } }
                },
                y: {
                    type: 'linear',
                    min: -0.10, max: 0.25,
                    display: showY,
                    afterBuildTicks: s => { s.ticks = yTicks.map(v => ({ value: v })); },
                    afterFit: s => { if (showY) { s.width = 73; s.paddingTop = 0; s.paddingBottom = 0; } },
                    border: { display: false },
                    grid: { drawOnChartArea: false, drawTicks: true, tickLength: 8, color: '#222', tickColor: '#222', lineWidth: 1 },
                    ticks: { color: INK, font: { family: FONT, size: 13 }, padding: 8.3, autoSkip: false, callback: fmtY },
                    title: { display: showY, text: c.yTitle || '', color: INK,
                        font: { family: FONT, size: 16.5, lineHeight: 1 }, padding: 0 }
                }
            }
        }
    });
}

crearPanel('c1', {
    pts: infByP.concat(infByPCore, infByPCore2), fx: fitPx, fit: infFitP, hi: infHiP, lo: infLoP,
    xr: [-0.04, 1.04], ref: refLeft,
    yTitle: 'Proportion of infections averted',
    pad: { left: 0, top: 5, right: 5, bottom: 7 },
    plugins: [boxPlugin]
});

crearPanel('c2', {
    pts: infByVE.concat(infByVECore, infByVECore2), fx: fitVEx, fit: infFitVE, hi: infHiVE, lo: infLoVE,
    xr: [0.15, 0.85], ref: refRight,
    pad: { left: 11, top: 5, right: 1, bottom: 7 },
    plugins: [boxPlugin]
});

crearPanel('c3', {
    pts: disByP.concat(disByPCore, disByPCore2), fx: fitPx, fit: disFitP, hi: disHiP, lo: disLoP,
    xr: [0, 1], ref: refLeft, xTicks: pTicks,
    yTitle: 'Proportion of  disease episodes averted',
    xTitle: 'Proportion of protection due to infection,p',
    pad: { left: 0, top: 5, right: 5, bottom: 0 },
    plugins: [boxPlugin]
});

crearPanel('c4', {
    pts: disByVE.concat(disByVECore, disByVECore2), fx: fitVEx, fit: disFitVE, hi: disHiVE, lo: disLoVE,
    xr: [0.15, 0.85], ref: refRight, xTicks: veTicks,
    pad: { left: 11, top: 5, right: 1, bottom: 0 },
    plugins: [boxPlugin, veTitle]
});
</script>
</body>
</html>
